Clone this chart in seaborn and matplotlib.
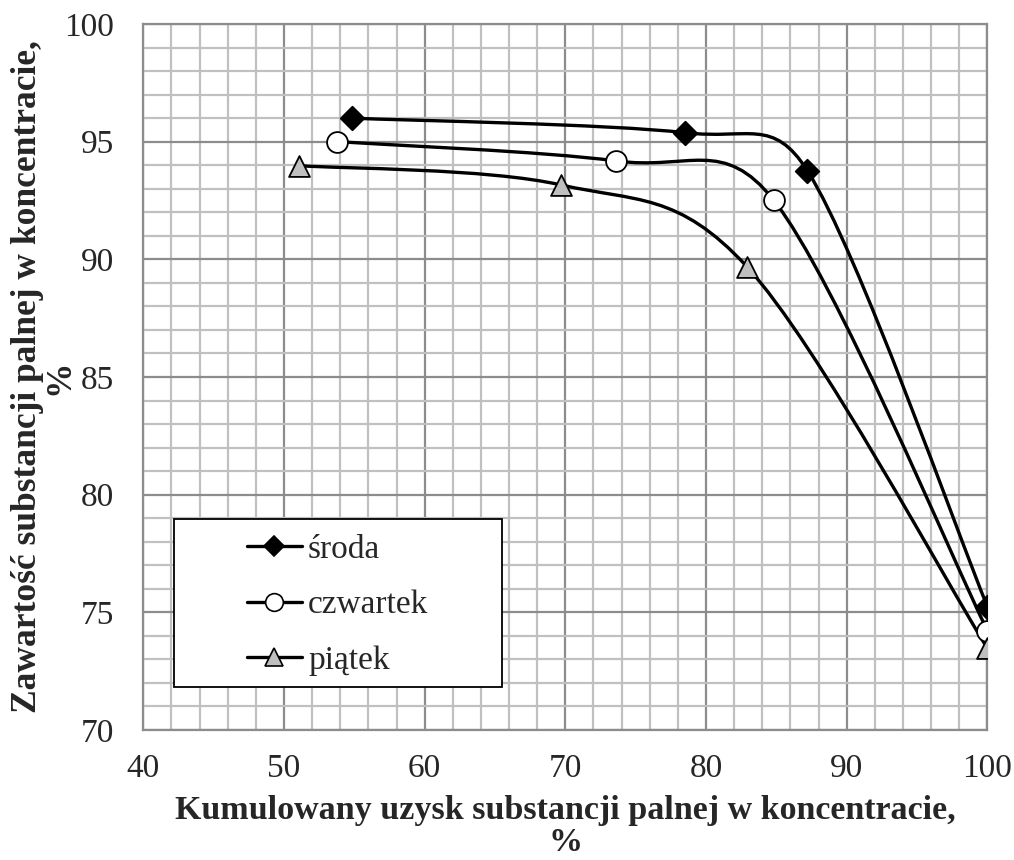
import numpy as np
import pandas as pd
import seaborn as sns
import matplotlib
matplotlib.use("Agg")
import matplotlib.pyplot as plt
from matplotlib.path import Path
from matplotlib.patches import PathPatch, Rectangle
from matplotlib.lines import Line2D
from matplotlib.ticker import MultipleLocator

# data
sroda_x = [54.8, 78.5, 87.2, 100.0]
sroda_y = [96.0, 95.38, 93.77, 75.24]
czwartek_x = [53.8, 73.6, 84.8, 100.0]
czwartek_y = [95.0, 94.18, 92.52, 74.22]
piatek_x = [51.1, 69.7, 82.9, 100.0]
piatek_y = [93.98, 93.16, 89.69, 73.47]
series_names = ["środa", "czwartek", "piątek"]

xlabel = "Kumulowany uzysk substancji palnej w koncentracie,\n%"
ylabel = "Zawartość substancji palnej w koncentracie,\n%"

sns.set_style("white")
plt.rcParams["font.family"] = ["Liberation Serif", "DejaVu Serif"]

df = pd.concat([
    pd.DataFrame({"x": sroda_x, "y": sroda_y, "seria": series_names[0]}),
    pd.DataFrame({"x": czwartek_x, "y": czwartek_y, "seria": series_names[1]}),
    pd.DataFrame({"x": piatek_x, "y": piatek_y, "seria": series_names[2]}),
])

markers = {"środa": "D", "czwartek": "o", "piątek": "^"}
faces = {"środa": "black", "czwartek": "white", "piątek": "#bfbfbf"}
sizes = {"środa": 12, "czwartek": 15, "piątek": 15}


def smooth_path(ax, xs, ys):
    # excel-like smoothed line: bezier segments, tangents from neighbours,
    # control arm limited to half the segment (measured on screen)
    p = np.column_stack([xs, ys]).astype(float)
    s = ax.transData.transform(p)
    n = len(p)
    verts = [p[0]]
    codes = [Path.MOVETO]
    for i in range(n - 1):
        i0, i3 = max(i - 1, 0), min(i + 2, n - 1)
        d12 = np.linalg.norm(s[i + 1] - s[i])
        a1 = (s[i + 1] - s[i0]) / 6
        a2 = (s[i3] - s[i]) / 6
        if np.linalg.norm(a1) > d12 / 2:
            a1 = a1 / np.linalg.norm(a1) * d12 / 2
        if np.linalg.norm(a2) > d12 / 2:
            a2 = a2 / np.linalg.norm(a2) * d12 / 2
        c = ax.transData.inverted().transform(np.array([s[i] + a1, s[i + 1] - a2]))
        verts += [c[0], c[1], p[i + 1]]
        codes += [Path.CURVE4] * 3
    return Path(verts, codes)


fig = plt.figure(figsize=(10.14, 8.6), dpi=100)
ax = fig.add_axes([0.1413, 0.1512, 0.8325, 0.8209])
ax.set_xlim(40, 100)
ax.set_ylim(70, 100)

for name in series_names:
    d = df[df["seria"] == name]
    ax.add_patch(PathPatch(smooth_path(ax, d["x"].values, d["y"].values),
                           facecolor="none", edgecolor="black", lw=2.4, zorder=3))
    sns.scatterplot(data=d, x="x", y="y", marker=markers[name], s=sizes[name] ** 2,
                    color=faces[name], edgecolor="black", linewidth=1.3,
                    ax=ax, zorder=4, legend=False)

ax.set_xlim(40, 100)
ax.set_ylim(70, 100)
ax.xaxis.set_major_locator(MultipleLocator(10))
ax.xaxis.set_minor_locator(MultipleLocator(2))
ax.yaxis.set_major_locator(MultipleLocator(5))
ax.yaxis.set_minor_locator(MultipleLocator(1))
ax.grid(which="minor", color="#c0c0c0", lw=1.6, zorder=0)
ax.grid(which="major", color="#8c8c8c", lw=1.6, zorder=0)
ax.set_axisbelow(True)
for sp in ax.spines.values():
    sp.set_color("#8c8c8c")
    sp.set_linewidth(1.6)
ax.tick_params(which="major", direction="out", length=7, width=1.6, color="#8c8c8c",
               labelsize=24)
ax.tick_params(which="minor", length=0)
ax.tick_params(axis="x", pad=10)
ax.tick_params(axis="y", pad=14)
ax.set_xlabel(xlabel, fontsize=24.5, fontweight="bold", labelpad=8, linespacing=1.02)
ax.set_ylabel(ylabel, fontsize=25.5, fontweight="bold", linespacing=1.0)
ax.yaxis.set_label_coords(-0.079, 0.5)

# legend box
ax.add_patch(Rectangle((0.0364, 0.0609), 0.3885, 0.238, transform=ax.transAxes,
                       facecolor="white", edgecolor="black", lw=1.3, zorder=5))
handles = [Line2D([], [], color="black", lw=2.4, marker=markers[n], markersize=sizes[n] * 0.85,
                  markerfacecolor=faces[n], markeredgecolor="black", markeredgewidth=1.2)
           for n in series_names]
leg = ax.legend(handles, series_names, loc="center left", bbox_to_anchor=(0.1228, 0.177),
                frameon=False, fontsize=24, handlelength=1.65, handletextpad=0.18,
                labelspacing=0.75, borderpad=0, borderaxespad=0)
leg.set_zorder(6)

fig.savefig("out.png", dpi=100)
